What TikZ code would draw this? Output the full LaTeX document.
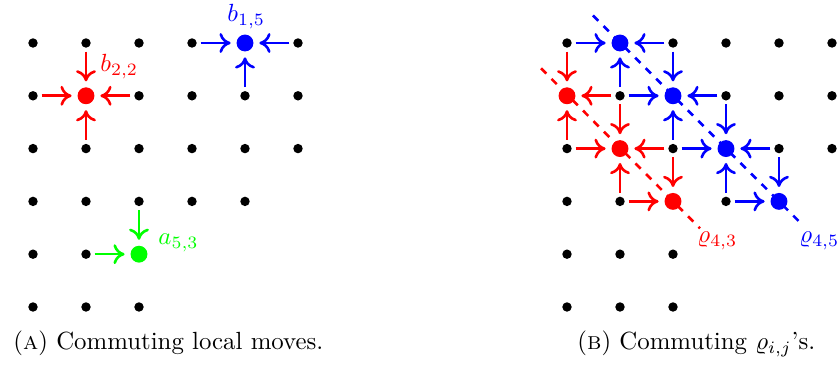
\documentclass[tikz,border=0pt]{standalone}
\usetikzlibrary{arrows.meta,calc}
\pgfdeclarelayer{bg}
\pgfsetlayers{bg,main}
\begin{document}
\begin{tikzpicture}[x=0.4027pt,y=-0.4027pt,
  dot/.style={circle,fill=black,inner sep=0pt,minimum size=3.8pt},
  bigdot/.style={circle,fill=#1,inner sep=0pt,minimum size=6.8pt},
  mv/.style={draw=#1,line width=1.05pt,-{Computer Modern Rightarrow[length=4.5pt,width=8pt]},shorten <=1.4pt,shorten >=2.2pt},
  diag/.style={draw=#1,line width=1.05pt,dashed},
  halo/.style={draw=white,line width=3.5pt,dashed},
  lbl/.style={anchor=base west,inner sep=0pt,text=#1},
  captext/.style={anchor=base west,inner sep=0pt}]
\useasboundingbox (0,0) rectangle (838,365);
% grid dots
\foreach \r/\n in {1/6,2/6,3/6,4/5,5/3,6/3}{
  \foreach \c in {1,...,\n}{
    \node[dot] (L\r\c) at ({33+53*(\c-1)},{43+52.8*(\r-1)}) {};
    \node[dot] (R\r\c) at ({567+53*(\c-1)},{43+52.8*(\r-1)}) {};
  }
}
% coloured dots, panel A
\node[bigdot=red]   (L22) at (L22) {};
\node[bigdot=blue]  (L15) at (L15) {};
\node[bigdot=green] (L53) at (L53) {};
% coloured dots, panel B
\node[bigdot=blue] (R12) at (R12) {};
\node[bigdot=blue] (R23) at (R23) {};
\node[bigdot=blue] (R34) at (R34) {};
\node[bigdot=blue] (R45) at (R45) {};
\node[bigdot=red]  (R21) at (R21) {};
\node[bigdot=red]  (R32) at (R32) {};
\node[bigdot=red]  (R43) at (R43) {};
\begin{pgfonlayer}{bg}
% panel A arrows
\draw[mv=red] (L12) -- (L22);
\draw[mv=red] (L21) -- (L22);
\draw[mv=red] (L23) -- (L22);
\draw[mv=red] (L32) -- (L22);
\draw[mv=blue] (L14) -- (L15);
\draw[mv=blue] (L16) -- (L15);
\draw[mv=blue] (L25) -- (L15);
\draw[mv=green] (L43) -- (L53);
\draw[mv=green] (L52) -- (L53);
% panel B blue arrows
\draw[mv=blue] (R11) -- (R12);
\draw[mv=blue] (R13) -- (R12);
\draw[mv=blue] (R22) -- (R12);
\draw[mv=blue] (R13) -- (R23);
\draw[mv=blue] (R22) -- (R23);
\draw[mv=blue] (R24) -- (R23);
\draw[mv=blue] (R33) -- (R23);
\draw[mv=blue] (R24) -- (R34);
\draw[mv=blue] (R33) -- (R34);
\draw[mv=blue] (R35) -- (R34);
\draw[mv=blue] (R44) -- (R34);
\draw[mv=blue] (R35) -- (R45);
\draw[mv=blue] (R44) -- (R45);
% panel B red arrows
\draw[mv=red] (R11) -- (R21);
\draw[mv=red] (R22) -- (R21);
\draw[mv=red] (R31) -- (R21);
\draw[mv=red] (R22) -- (R32);
\draw[mv=red] (R31) -- (R32);
\draw[mv=red] (R33) -- (R32);
\draw[mv=red] (R42) -- (R32);
\draw[mv=red] (R33) -- (R43);
\draw[mv=red] (R42) -- (R43);
% diagonals
\coordinate (bs) at ($(R12)+(-27,-27.5)$);
\coordinate (be) at ($(R45)+(24,24)$);
\coordinate (rs) at ($(R21)+(-26,-27.5)$);
\coordinate (re) at ($(R43)+(27,27)$);
\path[halo] (bs) -- (be);
\path[halo] (rs) -- (re);
\path[diag=blue] (bs) -- (be);
\path[diag=red] (rs) -- (re);
\end{pgfonlayer}
% labels
\node[lbl=red]   (tb22) at (100,72)  {$b_{2,2}$};
\node[lbl=blue]  (tb15) at (227,22)  {$b_{1,5}$};
\node[lbl=green] (ta53) at (158,245) {$a_{5,3}$};
\node[lbl=red]   (tr43) at (697,243) {$\varrho_{4,3}$};
\node[lbl=blue]  (tr45) at (799,243) {$\varrho_{4,5}$};
% captions
\node[captext] (capA) at (13,350)  {(\textsc{a}) Commuting local moves.};
\node[captext] (capB) at (577,350) {(\textsc{b}) Commuting $\varrho_{i,j}$'s.};
\end{tikzpicture}
\end{document}
